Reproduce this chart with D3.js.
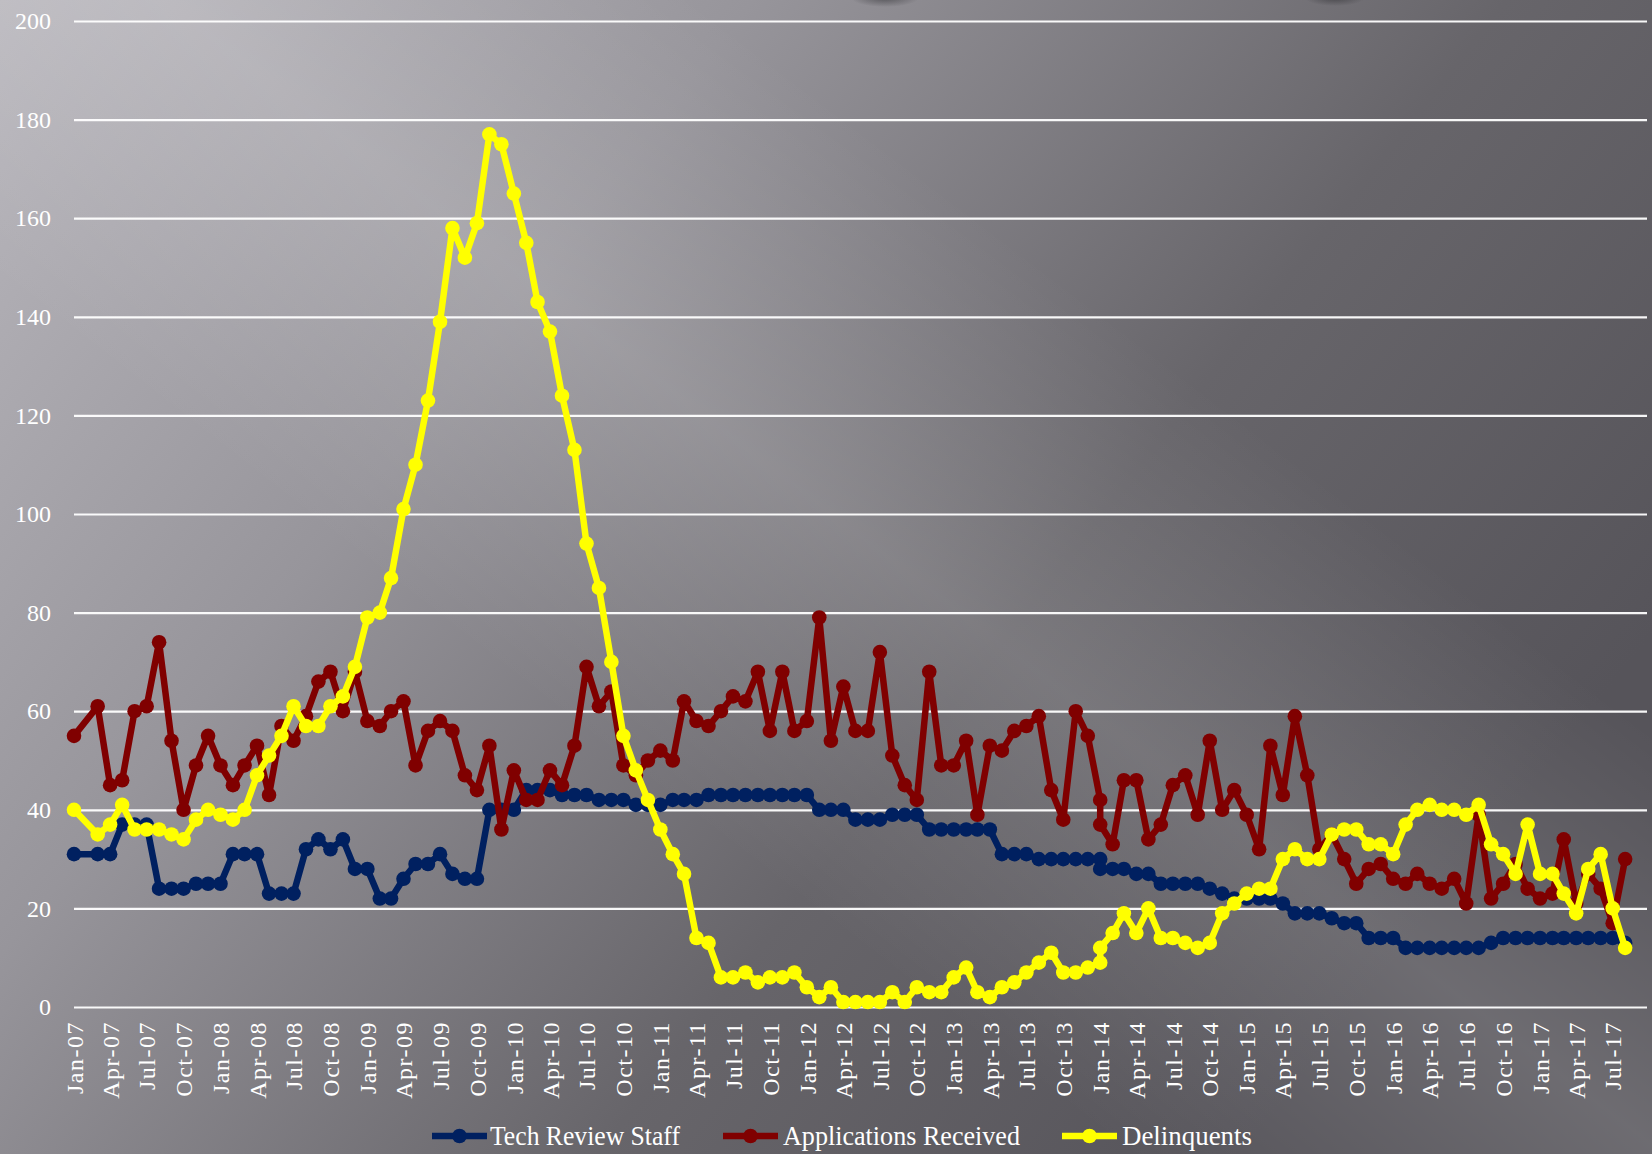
<!DOCTYPE html>
<html>
<head>
<meta charset="utf-8">
<script src="https://cdn.jsdelivr.net/npm/d3@7"></script>
<style>
html,body{margin:0;padding:0;background:#6f6d72;}
svg{display:block;}
</style>
</head>
<body>
<svg id="chart" width="1652" height="1154"></svg>
<script>
// ---------- DATA ----------
const dates = [
"2007-01","2007-03","2007-04","2007-05","2007-06","2007-07","2007-08","2007-09","2007-10","2007-11","2007-12",
"2008-01","2008-02","2008-03","2008-04","2008-05","2008-06","2008-07","2008-08","2008-09","2008-10","2008-11","2008-12",
"2009-01","2009-02","2009-03","2009-04","2009-05","2009-06","2009-07","2009-08","2009-09","2009-10","2009-11","2009-12",
"2010-01","2010-02","2010-03","2010-04","2010-05","2010-06","2010-07","2010-08","2010-09","2010-10","2010-11","2010-12",
"2011-01","2011-02","2011-03","2011-04","2011-05","2011-06","2011-07","2011-08","2011-09","2011-10","2011-11","2011-12",
"2012-01","2012-02","2012-03","2012-04","2012-05","2012-06","2012-07","2012-08","2012-09","2012-10","2012-11","2012-12",
"2013-01","2013-02","2013-03","2013-04","2013-05","2013-06","2013-07","2013-08","2013-09","2013-10","2013-11","2013-12",
"2014-01","2014-01","2014-02","2014-03","2014-04","2014-05","2014-06","2014-07","2014-08","2014-09","2014-10","2014-11","2014-12",
"2015-01","2015-02","2015-03","2015-04","2015-05","2015-06","2015-07","2015-08","2015-09","2015-10","2015-11","2015-12",
"2016-01","2016-02","2016-03","2016-04","2016-05","2016-06","2016-07","2016-08","2016-09","2016-10","2016-11","2016-12",
"2017-01","2017-02","2017-03","2017-04","2017-05","2017-06","2017-07","2017-08"
];

const techReviewStaff = [
31,31,31,37,37,37,24,24,24,25,25,
25,31,31,31,23,23,23,32,34,32,34,
28,28,22,22,26,29,29,31,27,26,26,
40,40,40,44,44,44,43,43,43,42,42,
42,41,41,41,42,42,42,43,43,43,43,
43,43,43,43,43,40,40,40,38,38,38,
39,39,39,36,36,36,36,36,36,31,31,
31,30,30,30,30,30,
30,28,
28,28,27,27,25,25,25,25,24,23,22,
22,22,22,21,19,19,19,18,17,17,14,14,
14,12,12,12,12,12,12,12,13,14,14,14,
14,14,14,14,14,14,14,13
];

const applicationsReceived = [
55,61,45,46,60,61,74,54,40,49,55,
49,45,49,53,43,57,54,59,66,68,60,
68,58,57,60,62,49,56,58,56,47,44,
53,36,48,42,42,48,45,53,69,61,64,
49,47,50,52,50,62,58,57,60,63,62,
68,56,68,56,58,79,54,65,56,56,72,
51,45,42,68,49,49,54,39,53,52,56,
57,59,44,38,60,55,
42,37,
33,46,46,34,37,45,47,39,54,40,44,
39,32,53,43,59,47,32,35,30,25,28,29,
26,25,27,25,24,26,21,39,22,25,29,24,
22,23,34,21,27,24,17,30
];

const delinquents = [
40,35,37,41,36,36,36,35,34,38,40,
39,38,40,47,51,55,61,57,57,61,63,
69,79,80,87,101,110,123,139,158,152,159,
177,175,165,155,143,137,124,113,94,85,70,
55,48,42,36,31,27,14,13,6,6,7,
5,6,6,7,4,2,4,1,1,1,1,
3,1,4,3,3,6,8,3,2,4,5,
7,9,11,7,7,8,
9,12,
15,19,15,20,14,14,13,12,13,19,21,
23,24,24,30,32,30,30,35,36,36,33,33,
31,37,40,41,40,40,39,41,33,31,27,37,
27,27,23,19,28,31,20,12
];

const seriesNames = ["Tech Review Staff","Applications Received","Delinquents"];
const seriesColors = ["#002060","#800000","#FFFF00"];

const xTickLabels = [
"Jan-07","Apr-07","Jul-07","Oct-07","Jan-08","Apr-08","Jul-08","Oct-08",
"Jan-09","Apr-09","Jul-09","Oct-09","Jan-10","Apr-10","Jul-10","Oct-10",
"Jan-11","Apr-11","Jul-11","Oct-11","Jan-12","Apr-12","Jul-12","Oct-12",
"Jan-13","Apr-13","Jul-13","Oct-13","Jan-14","Apr-14","Jul-14","Oct-14",
"Jan-15","Apr-15","Jul-15","Oct-15","Jan-16","Apr-16","Jul-16","Oct-16",
"Jan-17","Apr-17","Jul-17"
];
const yTicks = [0,20,40,60,80,100,120,140,160,180,200];

// ---------- CHART ----------
const W = 1652, H = 1154;
const svg = d3.select("#chart");
const defs = svg.append("defs");

const bg = defs.append("linearGradient").attr("id","bg")
  .attr("x1","0").attr("y1","0").attr("x2","1").attr("y2","0.55");
bg.append("stop").attr("offset","0").attr("stop-color","#b9b7bd");
bg.append("stop").attr("offset","0.35").attr("stop-color","#97959b");
bg.append("stop").attr("offset","0.7").attr("stop-color","#67656a");
bg.append("stop").attr("offset","1").attr("stop-color","#56545a");

const band = defs.append("linearGradient").attr("id","band")
  .attr("gradientUnits","userSpaceOnUse")
  .attr("x1",780).attr("y1",60).attr("x2",380).attr("y2",580);
band.append("stop").attr("offset","0").attr("stop-color","#ffffff").attr("stop-opacity",0);
band.append("stop").attr("offset","0.5").attr("stop-color","#ffffff").attr("stop-opacity",0.14);
band.append("stop").attr("offset","1").attr("stop-color","#ffffff").attr("stop-opacity",0);

const shade = defs.append("radialGradient").attr("id","shade");
shade.append("stop").attr("offset","0").attr("stop-color","#2a2a2e").attr("stop-opacity",0.55);
shade.append("stop").attr("offset","1").attr("stop-color","#2a2a2e").attr("stop-opacity",0);

svg.append("rect").attr("width",W).attr("height",H).attr("fill","url(#bg)");
svg.append("rect").attr("width",W).attr("height",H).attr("fill","url(#band)");
svg.append("ellipse").attr("cx",885).attr("cy",-2).attr("rx",34).attr("ry",9).attr("fill","url(#shade)");
svg.append("ellipse").attr("cx",1335).attr("cy",-2).attr("rx",30).attr("ry",8).attr("fill","url(#shade)");

const parseMonth = d3.timeParse("%Y-%m");
const parseTick = d3.timeParse("%b-%y");
const xDates = dates.map(parseMonth);

const x = d3.scaleTime()
  .domain([parseTick("Jan-07"), parseTick("Jul-17")])
  .range([74, 1612.7]);
const y = d3.scaleLinear().domain([0,200]).range([1007, 21]);

// Y axis + gridlines
const yAxis = svg.append("g").attr("transform","translate(74,0)")
  .call(d3.axisLeft(y).tickValues(yTicks).tickSize(-(1647-74)).tickPadding(23).tickFormat(d3.format("d")));
yAxis.select(".domain").remove();
yAxis.selectAll(".tick line").attr("stroke","#ffffff").attr("stroke-width",2.2).attr("stroke-opacity",0.95);
yAxis.selectAll(".tick text").attr("fill","#ffffff")
  .style("font-family","'Liberation Serif', serif").style("font-size","24px");

// X axis
const xAxis = svg.append("g").attr("transform","translate(0,1007)")
  .call(d3.axisBottom(x).tickValues(xTickLabels.map(parseTick)).tickSize(0)
    .tickFormat((d,i)=>xTickLabels[i]));
xAxis.select(".domain").remove();
xAxis.selectAll(".tick text")
  .attr("fill","#ffffff")
  .attr("transform","rotate(-90)")
  .attr("text-anchor","end")
  .attr("x",-14).attr("y",0).attr("dy","0.34em")
  .style("font-family","'Liberation Serif', serif").style("font-size","24px")
  .style("letter-spacing","1.5px");

// Series
const allSeries = [techReviewStaff, applicationsReceived, delinquents];
const line = d3.line().x((d,i)=>x(xDates[i])).y(d=>y(d));

allSeries.forEach((vals,si)=>{
  const g = svg.append("g");
  g.append("path").datum(vals)
    .attr("d",line)
    .attr("fill","none")
    .attr("stroke",seriesColors[si])
    .attr("stroke-width",6.5)
    .attr("stroke-linejoin","round")
    .attr("stroke-linecap","round");
  g.selectAll("circle").data(vals).join("circle")
    .attr("cx",(d,i)=>x(xDates[i]))
    .attr("cy",d=>y(d))
    .attr("r",7.3)
    .attr("fill",seriesColors[si]);
});

// Legend
const legendItems = [
  {x:432, tx:490, len:190},
  {x:723, tx:783, len:237},
  {x:1062, tx:1122, len:130}
];
const lg = svg.append("g");
seriesNames.forEach((name,i)=>{
  const it = legendItems[i];
  lg.append("line").attr("x1",it.x).attr("x2",it.x+55).attr("y1",1136).attr("y2",1136)
    .attr("stroke",seriesColors[i]).attr("stroke-width",6.5);
  lg.append("circle").attr("cx",it.x+27.5).attr("cy",1136).attr("r",7.3).attr("fill",seriesColors[i]);
  lg.append("text").attr("x",it.tx).attr("y",1145)
    .attr("fill","#ffffff")
    .attr("textLength",it.len).attr("lengthAdjust","spacingAndGlyphs")
    .style("font-family","'Liberation Serif', serif").style("font-size","28px")
    .text(name);
});
</script>
</body>
</html>
